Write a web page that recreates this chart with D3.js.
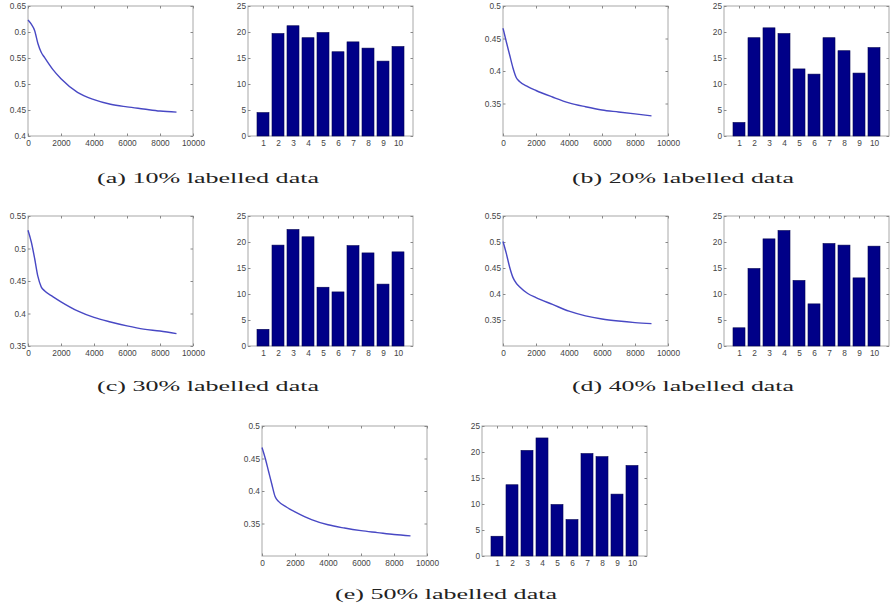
<!DOCTYPE html>
<html>
<head>
<meta charset="utf-8">
<script src="https://cdn.jsdelivr.net/npm/d3@7"></script>
<style>
  html, body { margin: 0; padding: 0; background: #fff; }
  svg { display: block; }
  .tick text { font-family: "Liberation Sans", Arial, sans-serif; font-size: 8.3px; fill: #444; }
  .tick line { stroke: #888; }
  .caption { font-family: "Liberation Serif", "DejaVu Serif", serif; font-size: 15.5px; fill: #222; }
</style>
</head>
<body>
<svg id="fig" width="892" height="612"></svg>
<script>
// Training iterations at which the objective was recorded
const iterations = [0, 200, 400, 600, 800, 1000, 1500, 2000, 3000, 4000, 5000, 6000, 7000, 8000, 9000];

// Objective value per iteration, one series per labelled-data ratio
const curve10 = [0.623, 0.615, 0.603, 0.578, 0.561, 0.551, 0.528, 0.510, 0.484, 0.470, 0.461, 0.456, 0.452, 0.448, 0.446];
const curve20 = [0.466, 0.445, 0.425, 0.405, 0.390, 0.384, 0.376, 0.370, 0.360, 0.351, 0.345, 0.340, 0.337, 0.334, 0.331];
const curve30 = [0.528, 0.510, 0.485, 0.457, 0.441, 0.435, 0.426, 0.418, 0.404, 0.394, 0.387, 0.381, 0.376, 0.373, 0.369];
const curve40 = [0.501, 0.478, 0.452, 0.432, 0.421, 0.414, 0.401, 0.393, 0.380, 0.367, 0.358, 0.352, 0.348, 0.345, 0.343];
const curve50 = [0.467, 0.450, 0.430, 0.410, 0.391, 0.384, 0.375, 0.368, 0.356, 0.348, 0.343, 0.339, 0.336, 0.333, 0.331];

// Histogram over the ten classes
const classes = [1, 2, 3, 4, 5, 6, 7, 8, 9, 10];
const hist10 = [4.5, 19.7, 21.2, 18.9, 19.9, 16.2, 18.1, 16.9, 14.4, 17.2];
const hist20 = [2.6, 18.9, 20.8, 19.7, 12.9, 11.9, 18.9, 16.4, 12.1, 17.0];
const hist30 = [3.2, 19.4, 22.4, 21.0, 11.3, 10.4, 19.3, 17.9, 11.9, 18.1];
const hist40 = [3.5, 14.9, 20.6, 22.2, 12.6, 8.1, 19.7, 19.4, 13.1, 19.2];
const hist50 = [3.8, 13.7, 20.3, 22.7, 9.9, 7.0, 19.7, 19.1, 11.9, 17.4];

// Axis ranges and tick labels
const iterTicks = [0, 2000, 4000, 6000, 8000, 10000];
const yRange10 = [0.4, 0.65], yTicks10 = [0.4, 0.45, 0.5, 0.55, 0.6, 0.65];
const yRange20 = [0.3, 0.5],  yTicks20 = [0.35, 0.4, 0.45, 0.5];
const yRange30 = [0.35, 0.55], yTicks30 = [0.35, 0.4, 0.45, 0.5, 0.55];
const yRange40 = [0.3, 0.55], yTicks40 = [0.35, 0.4, 0.45, 0.5, 0.55];
const yRange50 = [0.3, 0.5],  yTicks50 = [0.35, 0.4, 0.45, 0.5];
const histRange = [0, 25], histTicks = [0, 5, 10, 15, 20, 25];

const captions = ["(a) 10% labelled data", "(b) 20% labelled data", "(c) 30% labelled data",
                  "(d) 40% labelled data", "(e) 50% labelled data"];

// Placement of each subfigure
const BW = 165, BH = 130;
const panels = [
  { curve: curve10, yr: yRange10, yt: yTicks10, hist: hist10, lx: 28,  ly: 6,   bx: 248, by: 6,   cx: 208, cy: 183 },
  { curve: curve20, yr: yRange20, yt: yTicks20, hist: hist20, lx: 503, ly: 6,   bx: 724, by: 6,   cx: 683, cy: 183 },
  { curve: curve30, yr: yRange30, yt: yTicks30, hist: hist30, lx: 28,  ly: 216, bx: 248, by: 216, cx: 208, cy: 391 },
  { curve: curve40, yr: yRange40, yt: yTicks40, hist: hist40, lx: 503, ly: 216, bx: 724, by: 216, cx: 683, cy: 391 },
  { curve: curve50, yr: yRange50, yt: yTicks50, hist: hist50, lx: 262, ly: 426, bx: 482, by: 426, cx: 446, cy: 599 }
];

const svg = d3.select("#fig");
const TICK = -2.5;

function frame(g, x, y, x0, y0, xt, yt, fmt) {
  g.append("rect").attr("x", x0).attr("y", y0).attr("width", BW).attr("height", BH)
    .attr("fill", "#fff").attr("stroke", "#a8a8a8").attr("stroke-width", 1);
  const strip = s => s.call(a => a.select(".domain").remove());
  g.append("g").attr("transform", `translate(0,${y0 + BH})`)
    .call(d3.axisBottom(x).tickValues(xt).tickSize(TICK).tickPadding(4).tickFormat(d3.format("d"))).call(strip);
  g.append("g").attr("transform", `translate(0,${y0})`)
    .call(d3.axisTop(x).tickValues(xt).tickSize(TICK).tickFormat("")).call(strip);
  g.append("g").attr("transform", `translate(${x0},0)`)
    .call(d3.axisLeft(y).tickValues(yt).tickSize(TICK).tickPadding(2).tickFormat(fmt)).call(strip);
  g.append("g").attr("transform", `translate(${x0 + BW},0)`)
    .call(d3.axisRight(y).tickValues(yt).tickSize(TICK).tickFormat("")).call(strip);
}

panels.forEach((p, i) => {
  // Objective curve
  const gl = svg.append("g");
  const x = d3.scaleLinear().domain([0, 10000]).range([p.lx, p.lx + BW]);
  const y = d3.scaleLinear().domain(p.yr).range([p.ly + BH, p.ly]);
  frame(gl, x, y, p.lx, p.ly, iterTicks, p.yt, d => String(+d.toFixed(2)));
  gl.append("path")
    .datum(iterations.map((it, k) => [it, p.curve[k]]))
    .attr("fill", "none").attr("stroke", "#4848c4").attr("stroke-width", 1.4)
    .attr("d", d3.line().x(d => x(d[0])).y(d => y(d[1])).curve(d3.curveMonotoneX));

  // Class histogram
  const gb = svg.append("g");
  const xb = d3.scaleLinear().domain([0, 11]).range([p.bx, p.bx + BW]);
  const yb = d3.scaleLinear().domain(histRange).range([p.by + BH, p.by]);
  frame(gb, xb, yb, p.bx, p.by, classes, histTicks, d3.format("d"));
  gb.selectAll("rect.bar").data(classes).join("rect").attr("class", "bar")
    .attr("x", c => xb(c - 0.4)).attr("width", c => xb(c + 0.4) - xb(c - 0.4))
    .attr("y", (c, k) => yb(p.hist[k])).attr("height", (c, k) => yb(0) - yb(p.hist[k]))
    .attr("fill", "#000088").attr("stroke", "#000050").attr("stroke-width", 0.6);

  // Subfigure caption
  svg.append("text").attr("class", "caption")
    .attr("x", p.cx).attr("y", p.cy).attr("text-anchor", "middle")
    .attr("textLength", 222).attr("lengthAdjust", "spacingAndGlyphs")
    .text(captions[i]);
});
</script>
</body>
</html>
